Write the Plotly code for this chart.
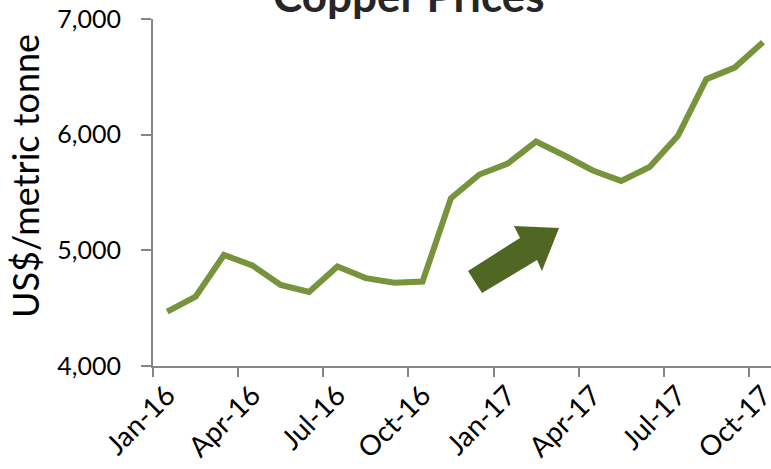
import plotly.graph_objects as go

months = ["Jan-16", "Feb-16", "Mar-16", "Apr-16", "May-16", "Jun-16", "Jul-16", "Aug-16",
          "Sep-16", "Oct-16", "Nov-16", "Dec-16", "Jan-17", "Feb-17", "Mar-17", "Apr-17",
          "May-17", "Jun-17", "Jul-17", "Aug-17", "Sep-17", "Oct-17"]
prices = [4470, 4600, 4960, 4870, 4700, 4640, 4860, 4760, 4720, 4730, 5450, 5655,
          5750, 5940, 5820, 5690, 5600, 5720, 5990, 6480, 6580, 6800]
tick_labels = months[::3]
y_ticks = [4000, 5000, 6000, 7000]
y_range = [4000, 7000]

FONT = "Lato"
W, H = 771, 469
L, R, T, B = 153, 0, 19, 103
pw, ph = W - L - R, H - T - B

def px(x, y):
    return (x - L) / pw, (H - B - y) / ph

fig = go.Figure()
fig.add_trace(go.Scatter(
    x=months, y=prices, mode="lines",
    line=dict(color="#77933C", width=6, shape="linear"),
    hoverinfo="skip", showlegend=False,
))
# empty helper trace so the label-only axis is drawn
fig.add_trace(go.Scatter(x=[], y=[], yaxis="y2", showlegend=False, hoverinfo="skip"))

# block arrow decoration
pts = [(468, 271), (520, 238), (514, 226), (559, 228), (542, 271), (537, 260), (482, 293)]
path = "M " + " L ".join(f"{px(a, b)[0]:.4f},{px(a, b)[1]:.4f}" for a, b in pts) + " Z"
fig.add_shape(type="path", path=path, xref="paper", yref="paper",
              fillcolor="#506724", line=dict(width=0))

fig.add_annotation(text="<b>Copper Prices</b>", xref="paper", yref="paper",
                   x=px(409, 0)[0], y=px(0, 23)[1], xanchor="center", yanchor="bottom",
                   showarrow=False, font=dict(family=FONT, size=44, color="#262626"))

fig.add_annotation(text="US$/metric tonne", xref="paper", yref="paper",
                   x=px(25, 0)[0], y=px(0, 176)[1], xanchor="center", yanchor="middle",
                   textangle=-90, showarrow=False,
                   font=dict(family=FONT, size=36, color="#000000"))

fig.update_xaxes(
    type="category", range=[-0.5, 21.28], automargin=False,
    tickmode="array", tickvals=tick_labels, ticktext=tick_labels,
    tickson="boundaries", ticks="outside", ticklen=9, tickcolor="#868686", tickwidth=1.5,
    tickangle=-45, tickfont=dict(family=FONT, size=28, color="#000000"),
    showline=True, linecolor="#868686", linewidth=1.5, showgrid=False, zeroline=False,
)
fig.update_layout(
    yaxis=dict(
        range=y_range, tickmode="array", tickvals=y_ticks, showticklabels=False,
        automargin=False, ticks="outside", ticklen=10, tickcolor="#868686", tickwidth=1.5,
        showline=True, linecolor="#868686", linewidth=1.5, showgrid=False, zeroline=False,
    ),
    yaxis2=dict(
        range=y_range, overlaying="y", side="left", anchor="x",
        tickmode="array", tickvals=y_ticks, tickformat=",d", automargin=False,
        ticks="outside", ticklen=26, tickcolor="rgba(0,0,0,0)",
        tickfont=dict(family=FONT, size=25, color="#000000"),
        showline=False, showgrid=False, zeroline=False,
    ),
    width=W, height=H, margin=dict(l=L, r=R, t=T, b=B),
    paper_bgcolor="white", plot_bgcolor="white",
)
fig.write_html("out.html", config={"displayModeBar": False},
               post_script="document.body.style.margin='0';")
